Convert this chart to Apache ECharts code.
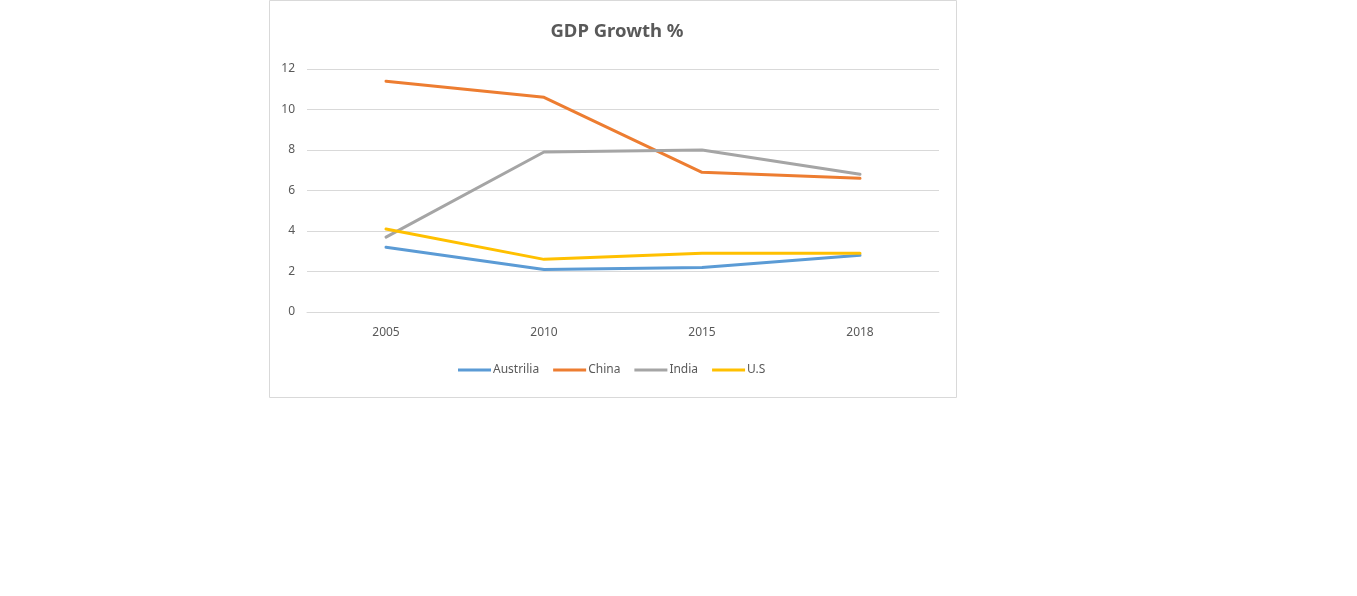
<!DOCTYPE html>
<html>
	<head>
		<meta charset="UTF-8">
		<title>GDP Growth %</title>
		<style>
			html, body { margin: 0; padding: 0; background: #fff; }
			#chart { width: 1357px; height: 596px; }
		</style>
	</head>
	<body>
		<div id="chart"></div>
	</body>
	<script src="https://cdn.jsdelivr.net/npm/echarts@6/dist/echarts.min.js"></script>
	<script type="text/javascript">
		// 数据
		var years = ['2005', '2010', '2015', '2018'];
		var austrilia = [3.2, 2.1, 2.2, 2.8];
		var china = [11.4, 10.6, 6.9, 6.6];
		var india = [3.7, 7.9, 8.0, 6.8];
		var us = [4.1, 2.6, 2.9, 2.9];

		var font = '"Noto Sans", "Open Sans", sans-serif';
		var labelColor = '#595959';
		var gridColor = '#d9d9d9';

		function lineSeries(name, data, color) {
			return {
				name: name,
				type: 'line',
				data: data,
				showSymbol: false,
				symbol: 'none',
				lineStyle: { width: 3, color: color, cap: 'round' },
				itemStyle: { color: color }
			};
		}

		var chart = echarts.init(document.getElementById('chart'));
		var option = {
			animation: false,
			title: {
				text: 'GDP Growth %',
				left: 612,
				top: 17,
				textAlign: 'center',
				textStyle: { fontFamily: font, fontSize: 18.5, fontWeight: 'bold', color: labelColor }
			},
			graphic: [{
				type: 'rect',
				shape: { x: 269.5, y: 0.5, width: 687, height: 397 },
				style: { fill: 'none', stroke: gridColor, lineWidth: 1 },
				silent: true
			}],
			legend: {
				left: 458,
				top: 364,
				padding: 0,
				itemWidth: 33,
				itemHeight: 3,
				itemGap: 14,
				icon: 'rect',
				textStyle: { fontFamily: font, fontSize: 12, color: labelColor, padding: [0, 0, 0, -3] },
				data: ['Austrilia', 'China', 'India', 'U.S']
			},
			grid: { left: 307, right: 418, top: 69, bottom: 284 },
			xAxis: {
				type: 'category',
				data: years,
				boundaryGap: true,
				axisLine: { show: true, lineStyle: { color: gridColor, width: 1 } },
				axisTick: { show: false },
				axisLabel: { fontFamily: font, fontSize: 12, color: labelColor, margin: 15 }
			},
			yAxis: {
				type: 'value',
				min: 0,
				max: 12,
				interval: 2,
				axisLine: { show: false },
				axisTick: { show: false },
				splitLine: { lineStyle: { color: gridColor, width: 1 } },
				axisLabel: { fontFamily: font, fontSize: 12, color: labelColor, margin: 12 }
			},
			series: [
				lineSeries('Austrilia', austrilia, '#5b9bd5'),
				lineSeries('China', china, '#ed7d31'),
				lineSeries('India', india, '#a5a5a5'),
				lineSeries('U.S', us, '#ffc000')
			]
		};
		chart.setOption(option);
	</script>
</html>
